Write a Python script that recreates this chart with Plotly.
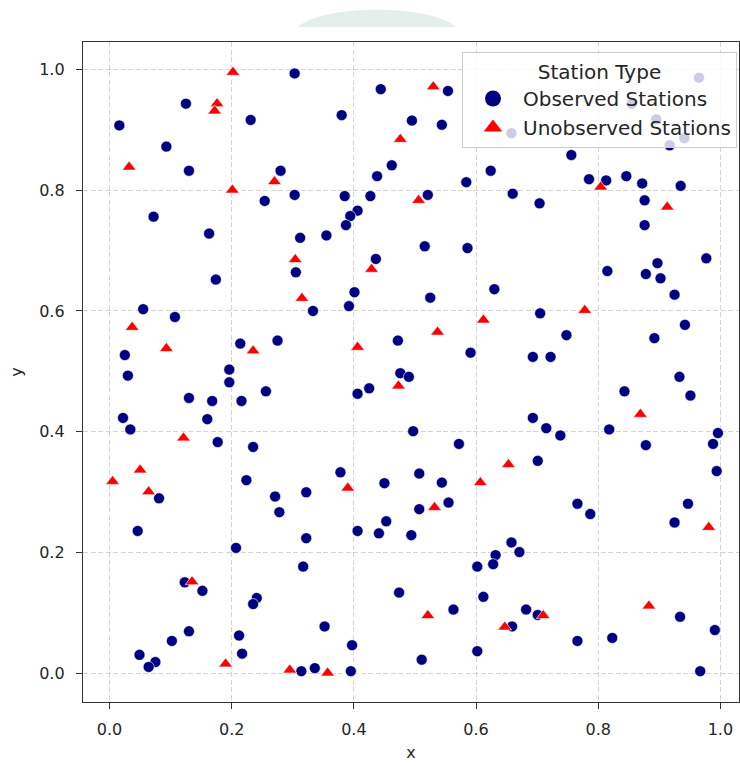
import plotly.graph_objects as go

# Observed stations (navy circles)
obs_x = [0.303, 0.125, 0.016, 0.231, 0.093, 0.130, 0.280, 0.303, 0.254, 0.072, 0.163, 0.312,
         0.444, 0.554, 0.380, 0.495, 0.544, 0.462, 0.438, 0.584, 0.624, 0.385, 0.427, 0.521,
         0.406, 0.394, 0.387, 0.355, 0.516, 0.586, 0.436,
         0.658, 0.965, 0.855, 0.895, 0.917, 0.941,
         0.756, 0.785, 0.813, 0.846, 0.872, 0.935, 0.660, 0.704, 0.876, 0.876, 0.977, 0.897,
         0.174, 0.305, 0.055, 0.107, 0.214, 0.275, 0.025, 0.030, 0.196, 0.196, 0.256, 0.130,
         0.168, 0.216, 0.022, 0.160, 0.034, 0.177, 0.235, 0.224,
         0.401, 0.392, 0.333, 0.525, 0.630, 0.472, 0.591, 0.476, 0.490, 0.425, 0.406, 0.497,
         0.572, 0.378, 0.507, 0.450, 0.544,
         0.815, 0.878, 0.902, 0.925, 0.705, 0.942, 0.748, 0.892, 0.693, 0.722, 0.933, 0.843,
         0.951, 0.693, 0.715, 0.738, 0.818, 0.878, 0.996, 0.988, 0.701, 0.994,
         0.081, 0.271, 0.278, 0.046, 0.207, 0.123, 0.152, 0.241, 0.235, 0.130, 0.102, 0.212,
         0.217, 0.049, 0.075, 0.064,
         0.322, 0.555, 0.507, 0.453, 0.406, 0.441, 0.494, 0.322, 0.317, 0.658, 0.632, 0.628,
         0.602, 0.474, 0.612, 0.563, 0.352, 0.659, 0.397, 0.602, 0.511, 0.314, 0.336, 0.395,
         0.766, 0.787, 0.947, 0.925, 0.671, 0.682, 0.701, 0.766, 0.823, 0.934, 0.991, 0.967]
obs_y = [0.993, 0.943, 0.907, 0.916, 0.872, 0.832, 0.832, 0.792, 0.782, 0.756, 0.728, 0.721,
         0.967, 0.964, 0.924, 0.915, 0.908, 0.841, 0.823, 0.813, 0.832, 0.790, 0.790, 0.792,
         0.766, 0.757, 0.742, 0.725, 0.707, 0.704, 0.686,
         0.894, 0.986, 0.943, 0.917, 0.874, 0.886,
         0.858, 0.818, 0.816, 0.823, 0.811, 0.807, 0.794, 0.778, 0.783, 0.742, 0.687, 0.679,
         0.652, 0.664, 0.603, 0.590, 0.546, 0.551, 0.527, 0.493, 0.503, 0.482, 0.467, 0.456,
         0.451, 0.451, 0.423, 0.421, 0.404, 0.383, 0.375, 0.320,
         0.631, 0.608, 0.600, 0.622, 0.636, 0.551, 0.531, 0.497, 0.491, 0.472, 0.463, 0.401,
         0.380, 0.333, 0.331, 0.315, 0.316,
         0.666, 0.661, 0.654, 0.627, 0.596, 0.577, 0.560, 0.555, 0.524, 0.524, 0.491, 0.467,
         0.460, 0.423, 0.406, 0.394, 0.404, 0.378, 0.398, 0.380, 0.352, 0.335,
         0.290, 0.293, 0.267, 0.236, 0.208, 0.151, 0.137, 0.125, 0.115, 0.070, 0.054, 0.063,
         0.033, 0.031, 0.019, 0.011,
         0.300, 0.283, 0.272, 0.252, 0.236, 0.232, 0.229, 0.224, 0.177, 0.217, 0.196, 0.181,
         0.177, 0.134, 0.127, 0.106, 0.078, 0.078, 0.047, 0.037, 0.023, 0.004, 0.009, 0.004,
         0.281, 0.264, 0.281, 0.250, 0.201, 0.106, 0.097, 0.054, 0.059, 0.094, 0.072, 0.004]

# Unobserved stations (red triangles)
unobs_x = [0.202, 0.176, 0.172, 0.032, 0.201, 0.270, 0.304, 0.530, 0.476, 0.506, 0.804, 0.913,
           0.037, 0.093, 0.235, 0.121, 0.050, 0.005, 0.315, 0.429, 0.612, 0.537, 0.406, 0.473,
           0.653, 0.607, 0.390, 0.778, 0.869, 0.064, 0.135, 0.190, 0.295, 0.532, 0.521, 0.647,
           0.357, 0.710, 0.883, 0.981]
unobs_y = [0.995, 0.943, 0.931, 0.838, 0.800, 0.814, 0.685, 0.971, 0.884, 0.783, 0.805, 0.772,
           0.573, 0.538, 0.534, 0.390, 0.337, 0.318, 0.621, 0.669, 0.585, 0.565, 0.540, 0.476,
           0.346, 0.316, 0.307, 0.601, 0.429, 0.301, 0.152, 0.016, 0.006, 0.275, 0.096, 0.077,
           0.001, 0.096, 0.112, 0.242]

legend_title = "Station Type"
series_names = ["Observed Stations", "Unobserved Stations"]
ticks = [0.0, 0.2, 0.4, 0.6, 0.8, 1.0]
tick_text = ["0.0", "0.2", "0.4", "0.6", "0.8", "1.0"]

FONT = "DejaVu Sans"
W, H = 740, 766
L, R, T, B = 83, 1, 42, 64

fig = go.Figure()
fig.add_trace(go.Scatter(
    x=obs_x, y=obs_y, mode="markers", showlegend=False, name=series_names[0],
    marker=dict(symbol="circle", size=11, color="#000080",
                line=dict(color="white", width=0.6))))
fig.add_trace(go.Scatter(
    x=unobs_x, y=unobs_y, mode="markers", showlegend=False, name=series_names[1],
    marker=dict(symbol="triangle-up", size=12, color="#ff0000",
                line=dict(color="white", width=0.6))))
# legend entries
fig.add_trace(go.Scatter(
    x=[None], y=[None], mode="markers", name=series_names[0],
    marker=dict(symbol="circle", size=20, color="#000080")))
fig.add_trace(go.Scatter(
    x=[None], y=[None], mode="markers", name=series_names[1],
    marker=dict(symbol="triangle-up", size=20, color="#ff0000")))

axis_common = dict(
    tickmode="array", tickvals=ticks, ticktext=tick_text, automargin=False,
    showgrid=True, gridcolor="rgba(176,176,176,0.55)", griddash="5px,2.5px", gridwidth=1,
    zeroline=False, showline=True, mirror=True, linecolor="#333333", linewidth=1.3,
    ticks="outside", ticklen=6, tickwidth=1.2, tickcolor="#333333",
    tickfont=dict(family=FONT, size=16, color="#262626"),
    title_font=dict(family=FONT, size=16, color="#262626"),
)

fig.update_xaxes(range=[-0.0435, 1.0305], title_text="x", title_standoff=8,
                 ticklabelstandoff=7, **axis_common)
fig.update_yaxes(range=[-0.047, 1.045], title_text="y", title_standoff=12,
                 ticklabelstandoff=8, **axis_common)


def px_to_paper(px, py):
    pw = W - L - R
    ph = H - T - B
    return (px - L) / pw, (H - B - py) / ph


x0, y0 = px_to_paper(298, 27)
c1x, c1y = px_to_paper(322, 4)
c2x, c2y = px_to_paper(432, 4)
x1, y1 = px_to_paper(456, 27)
fig.add_shape(type="path", xref="paper", yref="paper", layer="below",
              path=f"M {x0},{y0} C {c1x},{c1y} {c2x},{c2y} {x1},{y1} Z",
              fillcolor="#e4efeb", line=dict(width=0))

lx, ly = px_to_paper(737, 52)
fig.update_layout(
    width=W, height=H,
    margin=dict(l=L, r=R, t=T, b=B, pad=0, autoexpand=False),
    plot_bgcolor="white", paper_bgcolor="white",
    font=dict(family=FONT, size=16, color="#262626"),
    hovermode=False,
    legend=dict(
        x=lx, y=ly, xanchor="right", yanchor="top",
        bgcolor="rgba(255,255,255,0.8)", bordercolor="#cccccc", borderwidth=1,
        font=dict(family=FONT, size=20, color="#262626"),
        title=dict(text=legend_title, side="top center",
                   font=dict(family=FONT, size=20, color="#262626")),
        itemsizing="trace", itemwidth=50, tracegroupgap=2,
    ),
)

fig.write_html(
    "out.html",
    config={"displayModeBar": False, "staticPlot": False},
    post_script="document.body.style.margin='0px';document.body.style.overflow='hidden';",
)
